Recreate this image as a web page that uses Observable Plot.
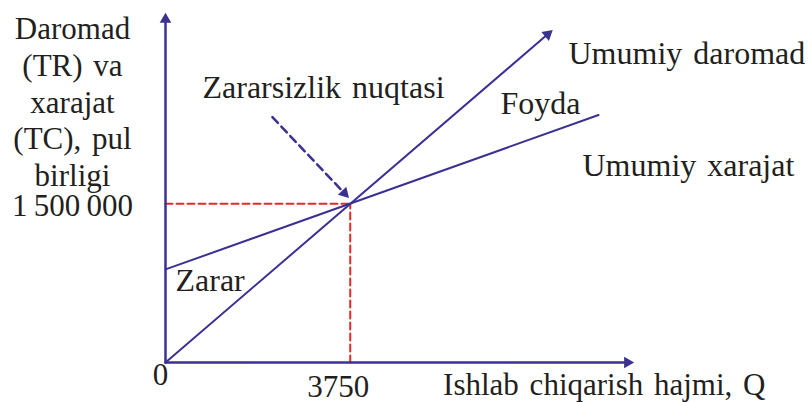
<!DOCTYPE html>
<html>
<head>
<meta charset="utf-8">
<script src="https://cdn.jsdelivr.net/npm/d3@7"></script>
<script src="https://cdn.jsdelivr.net/npm/@observablehq/plot@0.6"></script>
<style>
  html, body { margin: 0; padding: 0; background: #fff; }
  svg text { font-family: "Liberation Serif", "Times New Roman", serif !important; word-spacing: 3px; }
</style>
</head>
<body>
<div id="chart"></div>
<script>
// ---- data ----
const xMax = 9500;            // end of the Q axis
const yMax = 3300000;         // end of the TR/TC axis
const trQ = [0, 7850];        // total revenue line (Umumiy daromad)
const trV = [0, 3140000];
const tcQ = [0, 8790];        // total cost line (Umumiy xarajat)
const tcV = [880000, 2340000];
const beQ = 3750;             // break-even quantity
const beV = 1500000;          // break-even revenue
const ptrQ = [2170, 3715];    // dashed pointer to the break-even point
const ptrV = [2320000, 1560000];
const yLabel = ["Daromad", "(TR) va", "xarajat", "(TC), pul", "birligi"];
const xLabel = "Ishlab chiqarish hajmi, Q";
const beQLabel = "3750";
const beVLabel = "1\u2009500\u2009000";
const zeroLabel = "0";
const trLabel = "Umumiy daromad";
const tcLabel = "Umumiy xarajat";
const profitLabel = "Foyda";
const lossLabel = "Zarar";
const beLabel = "Zararsizlik nuqtasi";

// ---- layout ----
const W = 808, H = 402;
const mL = 165, mR = 175, mT = 13, mB = 40;
const kx = (W - mL - mR) / xMax;
const ky = (H - mT - mB) / yMax;
const blue = "#3b3192", red = "#e42a27", ink = "#231f20";
const FS = 31, FSA = 32;
const FF = "Liberation Serif";

function headAngle(x0, y0, x1, y1) {
  return Math.atan2((x1 - x0) * kx, (y1 - y0) * ky) * 180 / Math.PI;
}
function headCenter(x0, y0, x1, y1, back) {
  const px = (x1 - x0) * kx, py = (y1 - y0) * ky;
  const len = Math.hypot(px, py);
  const t = back / len;
  return [x1 - (x1 - x0) * t, y1 - (y1 - y0) * t];
}
const pairs = (a, b) => a.map((v, i) => [v, b[i]]);

const heads = [
  [0, 0, xMax, 0],
  [0, 0, 0, yMax],
  [trQ[0], trV[0], trQ[1], trV[1]],
  [ptrQ[0], ptrV[0], ptrQ[1], ptrV[1]]
].map(([x0, y0, x1, y1]) => {
  const c = headCenter(x0, y0, x1, y1, 6);
  return {x: c[0], y: c[1], a: headAngle(x0, y0, x1, y1)};
});

const xAxisEnd = headCenter(0, 0, xMax, 0, 6);
const yAxisEnd = headCenter(0, 0, 0, yMax, 6);
const trEnd = headCenter(trQ[0], trV[0], trQ[1], trV[1], 6);
const ptrEnd = headCenter(ptrQ[0], ptrV[0], ptrQ[1], ptrV[1], 6);

const txt = (label, opts) => Plot.text([label], {text: d => d, fontSize: FS, fontFamily: FF, fill: ink, ...opts});

const chart = Plot.plot({
  width: W, height: H,
  marginLeft: mL, marginRight: mR, marginTop: mT, marginBottom: mB,
  x: {domain: [0, xMax], axis: null},
  y: {domain: [0, yMax], axis: null},
  style: {fontFamily: FF, background: "#fff", overflow: "visible"},
  marks: [
    // red dashed guides
    Plot.line([[0, beV], [beQ, beV]], {stroke: red, strokeWidth: 2, strokeDasharray: "7,4"}),
    Plot.line([[beQ, 0], [beQ, beV]], {stroke: red, strokeWidth: 2, strokeDasharray: "7,4"}),
    // TC and TR lines
    Plot.line(pairs(tcQ, tcV), {stroke: blue, strokeWidth: 2}),
    Plot.line([[trQ[0], trV[0]], trEnd], {stroke: blue, strokeWidth: 2}),
    // dashed pointer
    Plot.line([[ptrQ[0], ptrV[0]], ptrEnd], {stroke: blue, strokeWidth: 2.5, strokeDasharray: "8,5"}),
    // axes
    Plot.line([[0, 0], xAxisEnd], {stroke: blue, strokeWidth: 2.5}),
    Plot.line([[0, 0], yAxisEnd], {stroke: blue, strokeWidth: 2.5}),
    // arrow heads
    Plot.dot(heads, {x: "x", y: "y", symbol: "triangle", r: 4.3, fill: blue, stroke: "none", rotate: "a"}),
    // tick labels
    txt(beVLabel, {x: 0, y: beV, textAnchor: "middle", lineAnchor: "middle", dx: -93, dy: 2}),
    txt(zeroLabel, {x: 0, y: 0, textAnchor: "middle", lineAnchor: "top", dx: -5, dy: 0}),
    txt(beQLabel, {x: beQ, y: 0, textAnchor: "middle", lineAnchor: "top", dx: -12, dy: 12}),
    // axis titles
    txt(yLabel.join("\n"), {frameAnchor: "top-left", textAnchor: "middle", lineAnchor: "top", lineHeight: 1.18, dx: -93, dy: 0}),
    txt(xLabel, {frameAnchor: "bottom-right", textAnchor: "end", lineAnchor: "top", dx: 132, dy: 10}),
    // annotations
    txt(trLabel, {frameAnchor: "top-right", fontSize: FSA, textAnchor: "start", lineAnchor: "top", dx: -65, dy: 28}),
    txt(profitLabel, {frameAnchor: "top-right", fontSize: FSA, textAnchor: "start", lineAnchor: "top", dx: -133, dy: 78}),
    txt(tcLabel, {frameAnchor: "top-right", fontSize: FSA, textAnchor: "start", lineAnchor: "top", dx: -51, dy: 140}),
    txt(beLabel, {frameAnchor: "top-left", fontSize: FSA, textAnchor: "start", lineAnchor: "top", dx: 37, dy: 62}),
    txt(lossLabel, {frameAnchor: "top-left", fontSize: FSA, textAnchor: "start", lineAnchor: "top", dx: 10, dy: 255})
  ]
});
document.getElementById("chart").appendChild(chart);
</script>
</body>
</html>
